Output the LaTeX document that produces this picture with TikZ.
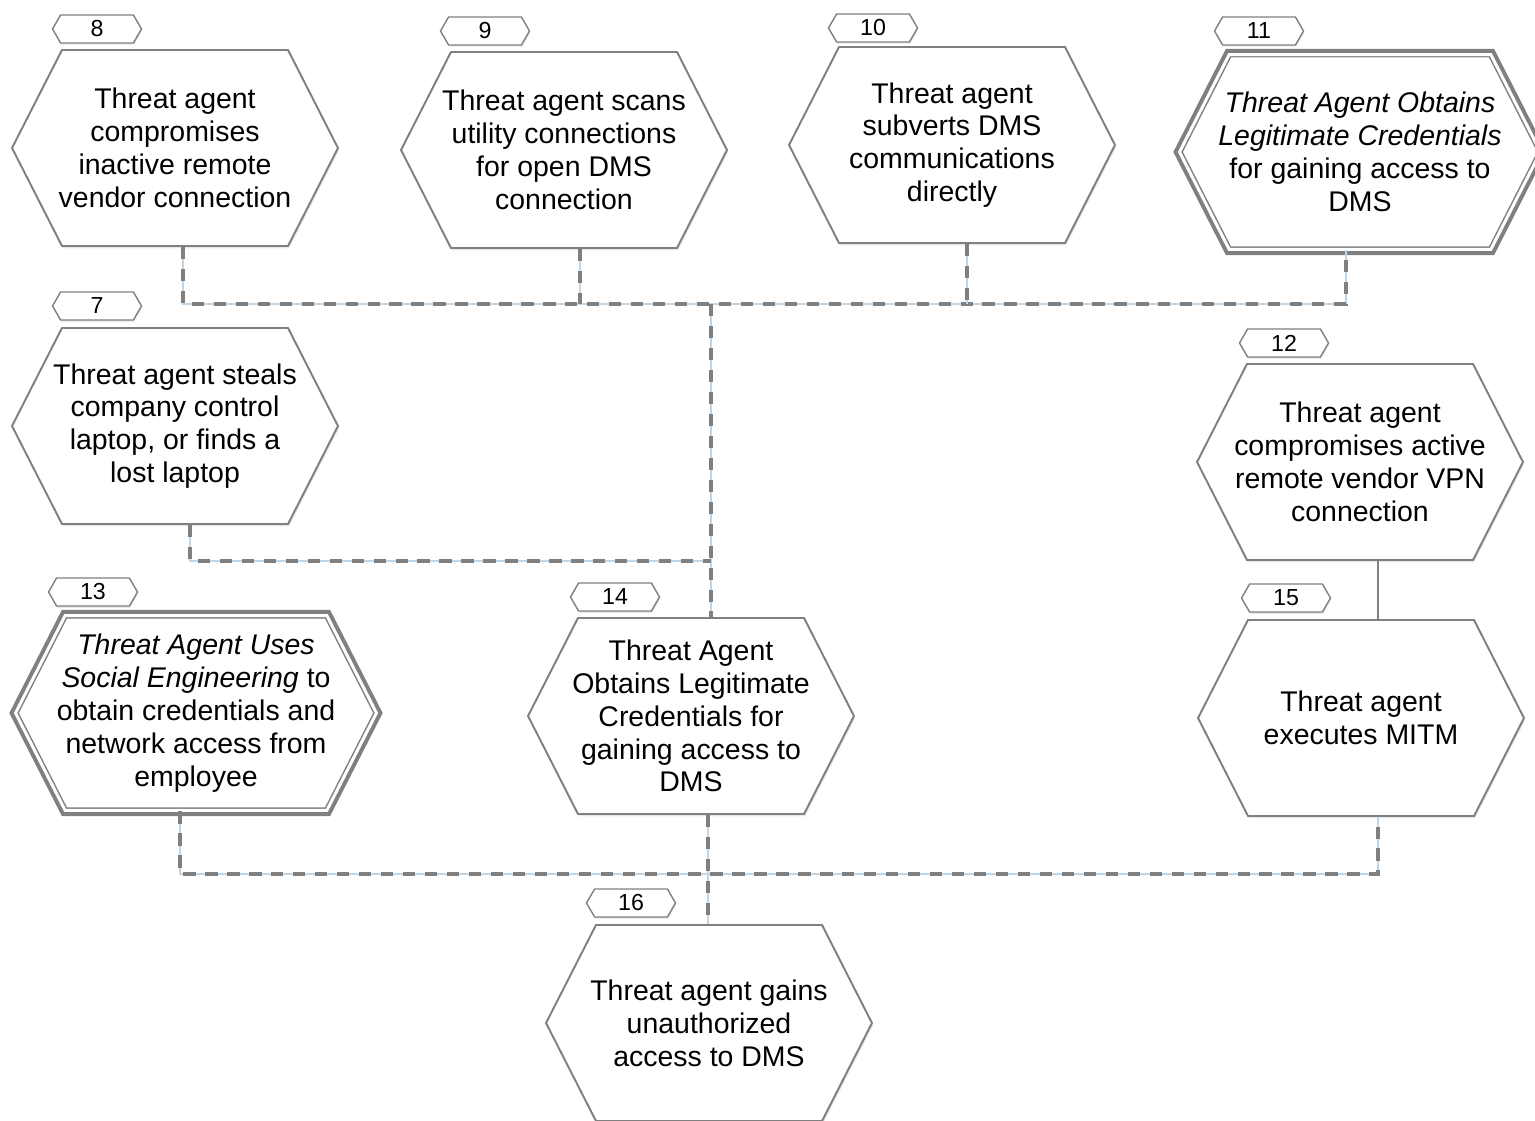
\documentclass[tikz,border=0pt]{standalone}
\usepackage{fontspec}
\setmainfont{Liberation Sans}
\usetikzlibrary{
  shapes.symbols,
  shadows,
  positioning
}
\definecolor{linkblue}{RGB}{190,214,234}

\begin{document}
\begin{tikzpicture}[
      x=0.02cm, y=-0.02cm,
      attack/.style={
         shape=signal,
         signal to=east and west,
         signal from=nowhere,
         signal pointer angle=126,
         minimum width=6.52cm,
         minimum height=3.92cm,
         inner xsep=-1.4cm, inner ysep=0pt,
         draw=black!50, line width=1.1pt,
         fill=white,
         align=center,
         font=\fontsize{16.2}{18.7}\selectfont,
         drop shadow={opacity=0.18, shadow xshift=0.7pt, shadow yshift=-1.3pt}
      },
      key attack/.style={
         attack,
         draw=none,
         minimum width=7.22cm,
         minimum height=3.9cm,
         preaction={draw=black!50, line width=6.3pt},
         postaction={draw=black!50, line width=0.85pt, double=white, double distance=1.7pt}
      },
      tag/.style={
         shape=signal,
         signal to=east and west,
         signal from=nowhere,
         signal pointer angle=120,
         minimum width=1.78cm,
         minimum height=0.56cm,
         inner sep=0pt,
         draw=black!50, line width=0.8pt,
         fill=white,
         font=\fontsize{13.2}{15}\selectfont,
         drop shadow={opacity=0.18, shadow xshift=0.5pt, shadow yshift=-1pt}
      },
      link/.style={
         draw=black!50, line width=2.3pt, dash pattern=on 7pt off 5.5pt,
         preaction={draw=linkblue, solid, line width=0.6pt}
      },
      plain link/.style={draw=black!50, line width=1.2pt},
      point/.style={coordinate}
    ]
    \useasboundingbox (0,0) rectangle (1535,1121);

    % attack steps
    \node (n8)  [attack] at (175,148) {Threat agent\\compromises\\inactive remote\\vendor connection};
    \node (n9)  [attack] at (564,150) {Threat agent scans\\utility connections\\for open DMS\\connection};
    \node (n10) [attack] at (952,145) {Threat agent\\subverts DMS\\communications\\directly};
    \node (n11) [key attack] at (1360,152) {\textit{Threat Agent Obtains}\\\textit{Legitimate Credentials}\\for gaining access to\\DMS};
    \node (n7)  [attack] at (175,426) {Threat agent steals\\company control\\laptop, or finds a\\lost laptop};
    \node (n12) [attack] at (1360,462) {Threat agent\\compromises active\\remote vendor VPN\\connection};
    \node (n13) [key attack] at (196,713) {\textit{Threat Agent Uses}\\\textit{Social Engineering} to\\obtain credentials and\\network access from\\employee};
    \node (n14) [attack] at (691,716) {Threat Agent\\Obtains Legitimate\\Credentials for\\gaining access to\\DMS};
    \node (n15) [attack] at (1361,718) {Threat agent\\executes MITM};
    \node (n16) [attack] at (709,1023) {Threat agent gains\\unauthorized\\access to DMS};

    % step numbers
    \node (t8)  [tag] at (97,29) {8};
    \node (t9)  [tag] at (485,31) {9};
    \node (t10) [tag] at (873,28) {10};
    \node (t11) [tag] at (1259,31) {11};
    \node (t7)  [tag] at (97,306) {7};
    \node (t12) [tag] at (1284,343) {12};
    \node (t13) [tag] at (93,592) {13};
    \node (t14) [tag] at (615,597) {14};
    \node (t15) [tag] at (1286,598) {15};
    \node (t16) [tag] at (631,903) {16};

    % bends
    \node (b8)  [point] at (183,304) {};
    \node (b9)  [point] at (580,304) {};
    \node (b10) [point] at (967,304) {};
    \node (b11) [point] at (1346,304) {};
    \node (bj)  [point] at (711,304) {};
    \node (b7)  [point] at (190,561) {};
    \node (b13) [point] at (180,874) {};
    \node (b15) [point] at (1378,874) {};
    \node (b16) [point] at (708,874) {};

    % connectors
    \draw [link] (n8.south -| b8) -- (b8) -- (b11) -- (n11.south -| b11);
    \draw [link] (n9.south -| b9) -- (b9);
    \draw [link] (n10.south -| b10) -- (b10);
    \draw [link] (bj) -- (n14.north -| bj);
    \draw [link] (n7.south -| b7) -- (b7) -- (b7 -| bj);
    \draw [plain link] (n12.south -| b15) -- (n15.north -| b15);
    \draw [link] (n13.south -| b13) -- (b13) -- (b15) -- (n15.south -| b15);
    \draw [link] (n14.south -| b16) -- (n16.north -| b16);
\end{tikzpicture}
\end{document}
